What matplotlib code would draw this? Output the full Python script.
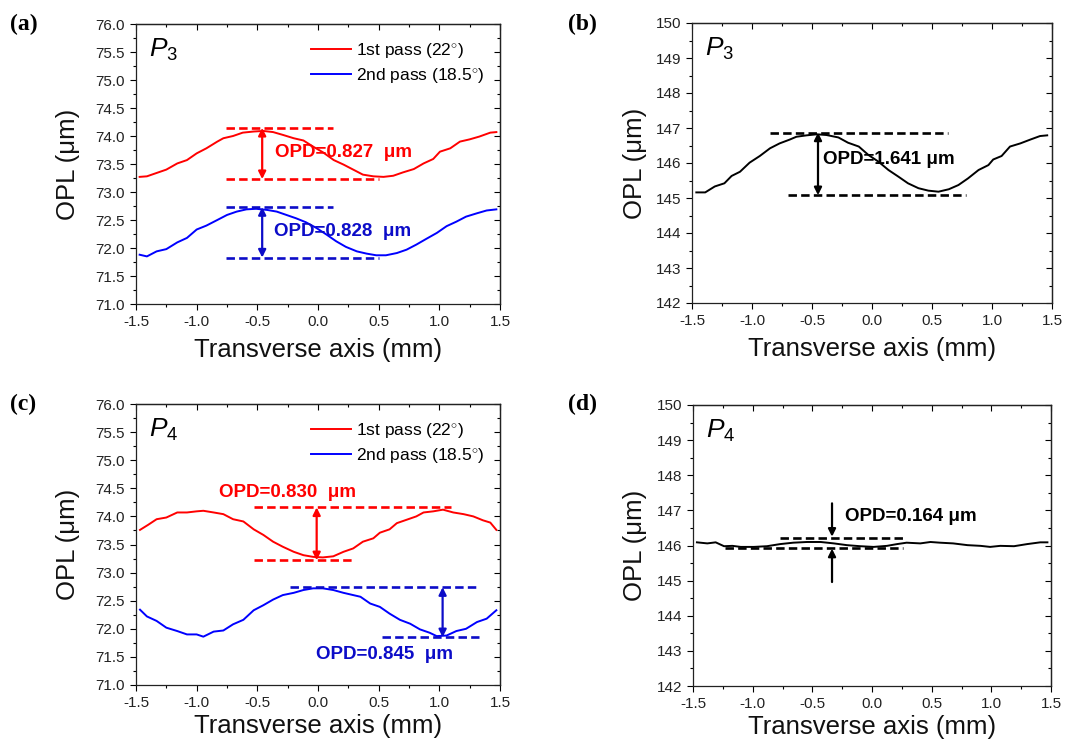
import matplotlib
matplotlib.use('Agg')
import matplotlib.pyplot as plt
from matplotlib.ticker import MultipleLocator

plt.rcParams['font.family'] = ['Liberation Sans', 'DejaVu Sans']
plt.rcParams['axes.unicode_minus'] = False
plt.rcParams['mathtext.fontset'] = 'custom'
plt.rcParams['mathtext.rm'] = 'Liberation Sans'
plt.rcParams['mathtext.it'] = 'Liberation Sans:italic'
plt.rcParams['mathtext.bf'] = 'Liberation Sans:bold'

# ---- data ----
# (a) P3, two passes
xa_red = [-1.47, -1.41, -1.25, -1.16, -1.08, -1.0, -0.92, -0.83, -0.78, -0.70, -0.62, -0.53, -0.45,
          -0.37, -0.29, -0.20, -0.12, -0.04, 0.04, 0.13, 0.21, 0.29, 0.37, 0.456, 0.54, 0.62, 0.70,
          0.79, 0.87, 0.95, 1.005, 1.09, 1.17, 1.25, 1.33, 1.42, 1.47]
ya_red = [73.27, 73.28, 73.40, 73.51, 73.57, 73.69, 73.78, 73.90, 73.96, 74.00, 74.06, 74.08, 74.09,
          74.07, 74.02, 73.96, 73.92, 73.81, 73.71, 73.57, 73.49, 73.40, 73.31, 73.28, 73.27, 73.29,
          73.35, 73.41, 73.51, 73.59, 73.72, 73.78, 73.90, 73.94, 73.99, 74.06, 74.07]
xa_blue = [-1.47, -1.41, -1.33, -1.25, -1.16, -1.08, -1.0, -0.92, -0.83, -0.75, -0.67, -0.59, -0.51,
           -0.42, -0.34, -0.26, -0.18, -0.10, -0.015, 0.07, 0.15, 0.23, 0.32, 0.40, 0.48, 0.56, 0.65,
           0.73, 0.81, 0.89, 0.98, 1.06, 1.14, 1.22, 1.31, 1.39, 1.47]
ya_blue = [71.88, 71.85, 71.94, 71.98, 72.10, 72.18, 72.33, 72.40, 72.50, 72.59, 72.65, 72.69, 72.70,
           72.68, 72.65, 72.59, 72.53, 72.46, 72.36, 72.24, 72.12, 72.02, 71.94, 71.90, 71.87, 71.87,
           71.91, 71.97, 72.06, 72.16, 72.27, 72.39, 72.47, 72.56, 72.62, 72.67, 72.69]

# (b) P3, double pass
xb = [-1.464, -1.39, -1.31, -1.23, -1.17, -1.10, -1.02, -0.935, -0.85, -0.77, -0.685, -0.63, -0.545,
      -0.46, -0.38, -0.28, -0.20, -0.11, -0.03, 0.053, 0.137, 0.22, 0.30, 0.387, 0.47, 0.554, 0.64,
      0.72, 0.80, 0.888, 0.97, 1.01, 1.08, 1.15, 1.236, 1.32, 1.40, 1.46]
yb = [145.16, 145.16, 145.33, 145.42, 145.63, 145.75, 146.01, 146.20, 146.42, 146.56, 146.67, 146.75,
      146.79, 146.82, 146.80, 146.73, 146.58, 146.47, 146.23, 146.04, 145.80, 145.61, 145.42, 145.28,
      145.21, 145.18, 145.25, 145.37, 145.56, 145.80, 145.94, 146.10, 146.20, 146.47, 146.56, 146.67,
      146.77, 146.79]

# (c) P4, two passes
xc = [-1.467, -1.40, -1.33, -1.25, -1.16, -1.08, -1.0, -0.945, -0.86, -0.78, -0.70, -0.615, -0.53,
      -0.45, -0.37, -0.29, -0.20, -0.12, -0.04, 0.04, 0.126, 0.21, 0.29, 0.37, 0.456, 0.51, 0.59,
      0.65, 0.73, 0.81, 0.87, 0.95, 1.03, 1.115, 1.20, 1.28, 1.36, 1.42, 1.47]
yc_red = [73.76, 73.85, 73.95, 73.98, 74.07, 74.07, 74.09, 74.10, 74.07, 74.04, 73.95, 73.91, 73.77,
          73.67, 73.55, 73.46, 73.37, 73.31, 73.28, 73.27, 73.29, 73.37, 73.43, 73.55, 73.61, 73.71,
          73.77, 73.88, 73.94, 74.00, 74.07, 74.09, 74.12, 74.07, 74.04, 74.00, 73.93, 73.89, 73.76]
xc_blue = [-1.467, -1.41, -1.33, -1.25, -1.16, -1.08, -1.0, -0.945, -0.86, -0.78, -0.70, -0.615, -0.53,
           -0.45, -0.37, -0.29, -0.20, -0.12, -0.04, 0.04, 0.126, 0.21, 0.29, 0.35, 0.43, 0.51, 0.59,
           0.675, 0.76, 0.84, 0.92, 0.978, 1.06, 1.14, 1.22, 1.31, 1.39, 1.47]
yc_blue = [72.34, 72.22, 72.14, 72.02, 71.96, 71.90, 71.90, 71.86, 71.95, 71.97, 72.08, 72.16, 72.33,
           72.42, 72.52, 72.60, 72.64, 72.69, 72.72, 72.72, 72.69, 72.64, 72.60, 72.57, 72.45, 72.39,
           72.27, 72.16, 72.09, 71.99, 71.93, 71.87, 71.88, 71.96, 72.00, 72.12, 72.18, 72.33]

# (d) P4, double pass
xd = [-1.467, -1.38, -1.31, -1.24, -1.17, -1.10, -0.99, -0.88, -0.77, -0.66, -0.545, -0.43, -0.32,
      -0.21, -0.10, 0.014, 0.126, 0.21, 0.29, 0.405, 0.49, 0.57, 0.68, 0.80, 0.91, 0.99, 1.075, 1.19,
      1.30, 1.41, 1.47]
yd = [146.09, 146.06, 146.09, 145.98, 145.99, 145.96, 145.96, 145.98, 146.04, 146.08, 146.10, 146.10,
      146.06, 146.01, 145.98, 145.96, 145.99, 146.04, 146.08, 146.06, 146.10, 146.08, 146.06, 146.01,
      145.99, 145.96, 145.99, 145.98, 146.04, 146.09, 146.09]

legend_labels = ['1st pass (22$^{\\circ}$)', '2nd pass (18.5$^{\\circ}$)']
opd_texts = {'a_red': 'OPD=0.827  \u03bcm', 'a_blue': 'OPD=0.828  \u03bcm',
             'b': 'OPD=1.641 \u03bcm', 'c_red': 'OPD=0.830  \u03bcm',
             'c_blue': 'OPD=0.845  \u03bcm', 'd': 'OPD=0.164 \u03bcm'}

RED = '#ff0000'
BLUE = '#0000ff'
DBLUE = '#0c0cc8'
DASH = (0, (3.2, 1.6))

fig = plt.figure(figsize=(10.89, 7.41), dpi=100)
W, H = 1089, 741


def make_axes(l, t, r, b):
    return fig.add_axes([l / W, 1 - b / H, (r - l) / W, (b - t) / H])


def style(ax, ylim, ymajor, yminor, ylabx, xlaby):
    ax.set_xlim(-1.5, 1.5)
    ax.set_ylim(*ylim)
    ax.xaxis.set_major_locator(MultipleLocator(0.5))
    ax.xaxis.set_minor_locator(MultipleLocator(0.25))
    ax.yaxis.set_major_locator(MultipleLocator(ymajor))
    ax.yaxis.set_minor_locator(MultipleLocator(yminor))
    ax.xaxis.set_major_formatter(plt.FormatStrFormatter('%.1f'))
    ax.tick_params(which='major', direction='out', length=4, width=0.8, labelsize=11,
                   labelcolor='#222222', pad=4)
    ax.tick_params(which='minor', direction='out', length=2, width=0.8)
    for sp in ax.spines.values():
        sp.set_linewidth(0.9)
        sp.set_color('#222222')
    # inward ticks on top and right
    top = ax.secondary_xaxis('top')
    top.xaxis.set_major_locator(MultipleLocator(0.5))
    top.xaxis.set_minor_locator(MultipleLocator(0.25))
    top.tick_params(which='major', direction='in', length=4, width=0.8, labeltop=False)
    top.tick_params(which='minor', direction='in', length=2, width=0.8)
    right = ax.secondary_yaxis('right')
    right.yaxis.set_major_locator(MultipleLocator(ymajor))
    right.yaxis.set_minor_locator(MultipleLocator(yminor))
    right.tick_params(which='major', direction='in', length=4, width=0.8, labelright=False)
    right.tick_params(which='minor', direction='in', length=2, width=0.8)
    for s in (top, right):
        for sp in s.spines.values():
            sp.set_linewidth(0.9)
            sp.set_color('#222222')
    ax.set_xlabel('Transverse axis (mm)', fontsize=18.5, color='#111111')
    ax.set_ylabel('OPL (\u03bcm)', fontsize=18.5, color='#111111')
    ax.xaxis.set_label_coords(0.5, xlaby)
    ax.yaxis.set_label_coords(ylabx, 0.5)


def hdash(ax, y, x0, x1, c):
    ax.plot([x0, x1], [y, y], color=c, lw=1.9, linestyle=DASH)


def darrow(ax, x, y0, y1, c, style='<|-|>'):
    ax.annotate('', xy=(x, y1), xytext=(x, y0),
                arrowprops=dict(arrowstyle=style, color=c, lw=1.6, mutation_scale=11,
                                shrinkA=0, shrinkB=0))


def opd(ax, x, y, s, c):
    ax.text(x, y, s, color=c, fontsize=13.5, fontweight='bold', va='center', ha='left')


def plabel(ax, s):
    ax.text(0.035, 0.955, s, transform=ax.transAxes, fontsize=19, va='top', ha='left')


def legend(ax):
    ax.legend(loc='upper left', bbox_to_anchor=(0.48, 0.94), frameon=False, fontsize=12.5,
              handlelength=2.3, handletextpad=0.3, labelspacing=0.35, borderpad=0, borderaxespad=0)


# (a)
ax = make_axes(136, 24, 500, 304)
style(ax, (71.0, 76.0), 0.5, 0.25, -0.154, -0.12)
ax.plot(xa_red, ya_red, color=RED, lw=1.4, label=legend_labels[0])
ax.plot(xa_blue, ya_blue, color=BLUE, lw=1.4, label=legend_labels[1])
hdash(ax, 74.145, -0.76, 0.12, RED)
hdash(ax, 73.23, -0.76, 0.505, RED)
darrow(ax, -0.46, 73.23, 74.145, RED)
opd(ax, -0.355, 73.70, opd_texts['a_red'], RED)
hdash(ax, 72.73, -0.76, 0.12, DBLUE)
hdash(ax, 71.83, -0.76, 0.505, DBLUE)
darrow(ax, -0.46, 71.83, 72.73, DBLUE)
opd(ax, -0.365, 72.30, opd_texts['a_blue'], DBLUE)
plabel(ax, '$P_3$')
legend(ax)

# (b)
ax = make_axes(692, 23, 1052, 303)
style(ax, (142, 150), 1, 0.5, -0.125, -0.12)
ax.plot(xb, yb, color='black', lw=1.4)
hdash(ax, 146.87, -0.85, 0.63, 'black')
hdash(ax, 145.08, -0.70, 0.78, 'black')
darrow(ax, -0.45, 145.08, 146.87, 'black')
opd(ax, -0.41, 146.09, opd_texts['b'], 'black')
plabel(ax, '$P_3$')

# (c)
ax = make_axes(136, 404, 500, 685)
style(ax, (71.0, 76.0), 0.5, 0.25, -0.154, -0.103)
ax.plot(xc, yc_red, color=RED, lw=1.4, label=legend_labels[0])
ax.plot(xc_blue, yc_blue, color=BLUE, lw=1.4, label=legend_labels[1])
hdash(ax, 74.16, -0.527, 1.10, RED)
hdash(ax, 73.22, -0.527, 0.286, RED)
darrow(ax, -0.011, 73.22, 74.16, RED)
opd(ax, -0.813, 74.42, opd_texts['c_red'], RED)
hdash(ax, 72.74, -0.23, 1.33, DBLUE)
hdash(ax, 71.85, 0.525, 1.33, DBLUE)
darrow(ax, 1.027, 71.85, 72.74, DBLUE)
opd(ax, -0.016, 71.55, opd_texts['c_blue'], DBLUE)
plabel(ax, '$P_4$')
legend(ax)

# (d)
ax = make_axes(693, 405, 1051, 686)
style(ax, (142, 150), 1, 0.5, -0.128, -0.103)
ax.plot(xd, yd, color='black', lw=1.4)
hdash(ax, 146.22, -0.774, 0.26, 'black')
hdash(ax, 145.93, -1.23, 0.26, 'black')
darrow(ax, -0.335, 147.20, 146.25, 'black', '-|>')
darrow(ax, -0.335, 144.96, 145.91, 'black', '-|>')
opd(ax, -0.223, 146.82, opd_texts['d'], 'black')
plabel(ax, '$P_4$')

# panel letters
for s, x, y in [('(a)', 10, 24), ('(b)', 568, 24), ('(c)', 10, 404), ('(d)', 568, 404)]:
    fig.text(x / W, 1 - y / H, s, fontfamily='Liberation Serif', fontweight='bold',
             fontsize=17, va='center', ha='left')

fig.savefig('out.png', dpi=100)
